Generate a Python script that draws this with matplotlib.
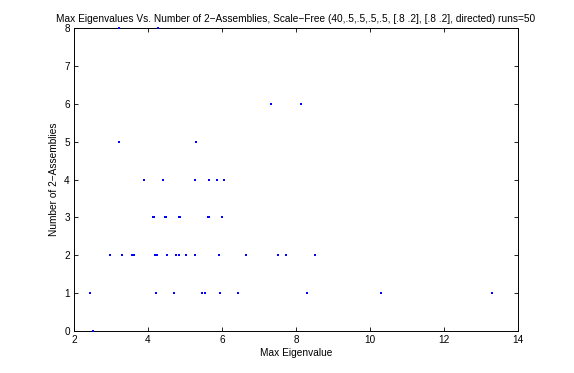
import matplotlib
matplotlib.use("Agg")
import matplotlib.pyplot as plt

# Data (max eigenvalue, number of 2-assemblies)
max_eig = [3.21, 4.26,
           3.22, 5.31,
           3.89, 4.40, 5.28, 5.65, 5.87, 6.05,
           4.14, 4.16, 4.45, 4.49, 4.84, 4.87, 5.61, 5.64, 6.00,
           7.33, 8.14,
           2.97, 3.30, 3.57, 3.61, 4.20, 4.25, 4.50, 4.77, 4.85, 5.04, 5.26, 5.91, 6.64, 7.50, 7.72, 8.52,
           2.43, 4.21, 4.70, 5.46, 5.54, 5.94, 6.44, 8.29, 10.30, 13.30,
           2.50]
num_assemblies = [8, 8,
                  5, 5,
                  4, 4, 4, 4, 4, 4,
                  3, 3, 3, 3, 3, 3, 3, 3, 3,
                  6, 6,
                  2, 2, 2, 2, 2, 2, 2, 2, 2, 2, 2, 2, 2, 2, 2, 2,
                  1, 1, 1, 1, 1, 1, 1, 1, 1, 1,
                  0]

x_ticks = [2, 4, 6, 8, 10, 12, 14]
y_ticks = [0, 1, 2, 3, 4, 5, 6, 7, 8]

title = "Max Eigenvalues Vs. Number of 2\u2212Assemblies, Scale\u2212Free (40,.5,.5,.5,.5, [.8 .2], [.8 .2], directed) runs=50"
xlabel = "Max Eigenvalue"
ylabel = "Number of 2\u2212Assemblies"

plt.rcParams['font.family'] = ['Liberation Sans', 'DejaVu Sans']
fig = plt.figure(figsize=(5.74, 3.73), dpi=100, facecolor='white')
ax = fig.add_axes([74/574, 42/373, 444/574, 303/373])
ax.plot(max_eig, num_assemblies, linestyle='none', marker='s', markersize=2.0,
        color='#0000ff', markeredgewidth=0, clip_on=False, zorder=3)
ax.set_xlim(2, 14)
ax.set_ylim(0, 8)
ax.set_xticks(x_ticks)
ax.set_yticks(y_ticks)
ax.tick_params(direction='in', top=True, right=True, labelsize=7.2, length=3, width=0.6, pad=3)
for s in ax.spines.values():
    s.set_linewidth(0.7)
ax.set_title(title, fontsize=7.3, pad=4)
ax.set_xlabel(xlabel, fontsize=7.3, labelpad=2)
ax.set_ylabel(ylabel, fontsize=7.3, labelpad=4)
fig.savefig("out.png", dpi=100, facecolor='white')
